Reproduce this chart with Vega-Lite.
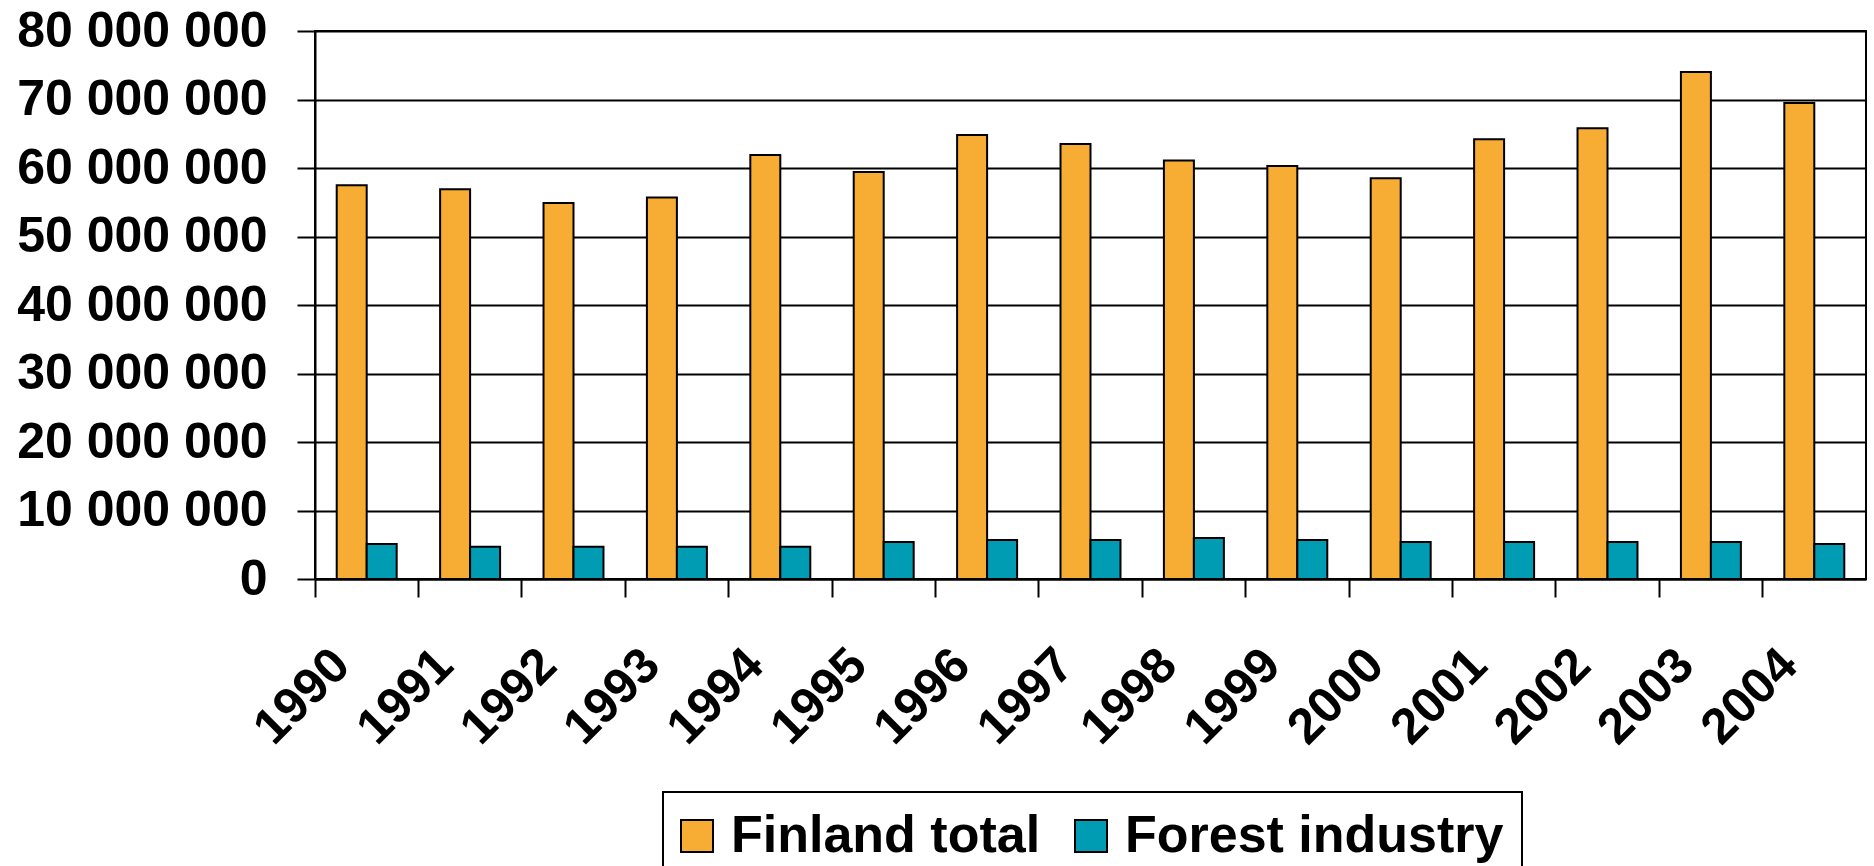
{
  "$schema": "https://vega.github.io/schema/vega-lite/v6.json",
  "autosize": {"type": "none"},
  "padding": {"left": 315, "top": 31, "right": 8, "bottom": 287},
  "width": 1551,
  "height": 548,
  "background": "white",
  "data": {
    "values": [
      {"year": "1990", "series": "Finland total", "value": 57500000},
      {"year": "1991", "series": "Finland total", "value": 56900000},
      {"year": "1992", "series": "Finland total", "value": 54900000},
      {"year": "1993", "series": "Finland total", "value": 55700000},
      {"year": "1994", "series": "Finland total", "value": 61900000},
      {"year": "1995", "series": "Finland total", "value": 59400000},
      {"year": "1996", "series": "Finland total", "value": 64800000},
      {"year": "1997", "series": "Finland total", "value": 63500000},
      {"year": "1998", "series": "Finland total", "value": 61100000},
      {"year": "1999", "series": "Finland total", "value": 60300000},
      {"year": "2000", "series": "Finland total", "value": 58500000},
      {"year": "2001", "series": "Finland total", "value": 64200000},
      {"year": "2002", "series": "Finland total", "value": 65800000},
      {"year": "2003", "series": "Finland total", "value": 74000000},
      {"year": "2004", "series": "Finland total", "value": 69500000},
      {"year": "1990", "series": "Forest industry", "value": 5100000},
      {"year": "1991", "series": "Forest industry", "value": 4700000},
      {"year": "1992", "series": "Forest industry", "value": 4700000},
      {"year": "1993", "series": "Forest industry", "value": 4700000},
      {"year": "1994", "series": "Forest industry", "value": 4700000},
      {"year": "1995", "series": "Forest industry", "value": 5400000},
      {"year": "1996", "series": "Forest industry", "value": 5700000},
      {"year": "1997", "series": "Forest industry", "value": 5700000},
      {"year": "1998", "series": "Forest industry", "value": 6000000},
      {"year": "1999", "series": "Forest industry", "value": 5700000},
      {"year": "2000", "series": "Forest industry", "value": 5400000},
      {"year": "2001", "series": "Forest industry", "value": 5400000},
      {"year": "2002", "series": "Forest industry", "value": 5400000},
      {"year": "2003", "series": "Forest industry", "value": 5400000},
      {"year": "2004", "series": "Forest industry", "value": 5100000}
    ]
  },
  "mark": {"type": "bar", "stroke": "black", "strokeWidth": 2},
  "encoding": {
    "x": {
      "field": "year",
      "type": "nominal",
      "scale": {"paddingInner": 0.42, "paddingOuter": 0.21},
      "axis": {
        "title": null,
        "bandPosition": -0.362,
        "grid": false,
        "domainColor": "black",
        "domainWidth": 2,
        "tickColor": "black",
        "tickWidth": 2,
        "tickSize": 18,
        "labelAngle": -45,
        "labelAlign": "right",
        "labelBaseline": "middle",
        "labelOffset": -25,
        "labelPadding": 60,
        "labelFont": "Liberation Sans",
        "labelFontSize": 50,
        "labelFontWeight": "bold",
        "labelColor": "black",
        "labelOverlap": false,
        "labelBound": false,
        "labelFlush": false,
        "labelLimit": 0
      }
    },
    "xOffset": {
      "field": "series",
      "type": "nominal",
      "sort": ["Finland total", "Forest industry"]
    },
    "y": {
      "field": "value",
      "type": "quantitative",
      "scale": {"domain": [0, 80000000], "nice": false},
      "axis": {
        "title": null,
        "values": [0, 10000000, 20000000, 30000000, 40000000, 50000000, 60000000, 70000000, 80000000],
        "labelExpr": "replace(format(datum.value, ','), regexp(',', 'g'), ' ')",
        "grid": true,
        "gridColor": "black",
        "gridWidth": 2,
        "domainColor": "black",
        "domainWidth": 2,
        "tickColor": "black",
        "tickWidth": 2,
        "tickSize": 18,
        "labelPadding": 30,
        "labelFont": "Liberation Sans",
        "labelFontSize": 50,
        "labelFontWeight": "bold",
        "labelColor": "black",
        "labelOverlap": false,
        "labelBound": false,
        "labelFlush": false,
        "labelLimit": 0
      }
    },
    "color": {
      "field": "series",
      "type": "nominal",
      "scale": {"domain": ["Finland total", "Forest industry"], "range": ["#F7AD33", "#009CB4"]},
      "legend": {
        "title": null,
        "orient": "none",
        "legendX": 348,
        "legendY": 761,
        "direction": "horizontal",
        "strokeColor": "black",
        "fillColor": "white",
        "padding": 18,
        "columnPadding": 30,
        "symbolType": "square",
        "symbolSize": 1024,
        "symbolOffset": -10,
        "symbolStrokeColor": "black",
        "symbolStrokeWidth": 2,
        "symbolOpacity": 1,
        "labelOffset": 8,
        "labelFont": "Liberation Sans",
        "labelFontSize": 52,
        "labelFontWeight": "bold",
        "labelColor": "black",
        "labelLimit": 0
      }
    }
  },
  "config": {
    "view": {"stroke": "black", "strokeWidth": 2},
    "axis": {"gridOpacity": 1},
    "legend": {"strokeWidth": 2}
  }
}
